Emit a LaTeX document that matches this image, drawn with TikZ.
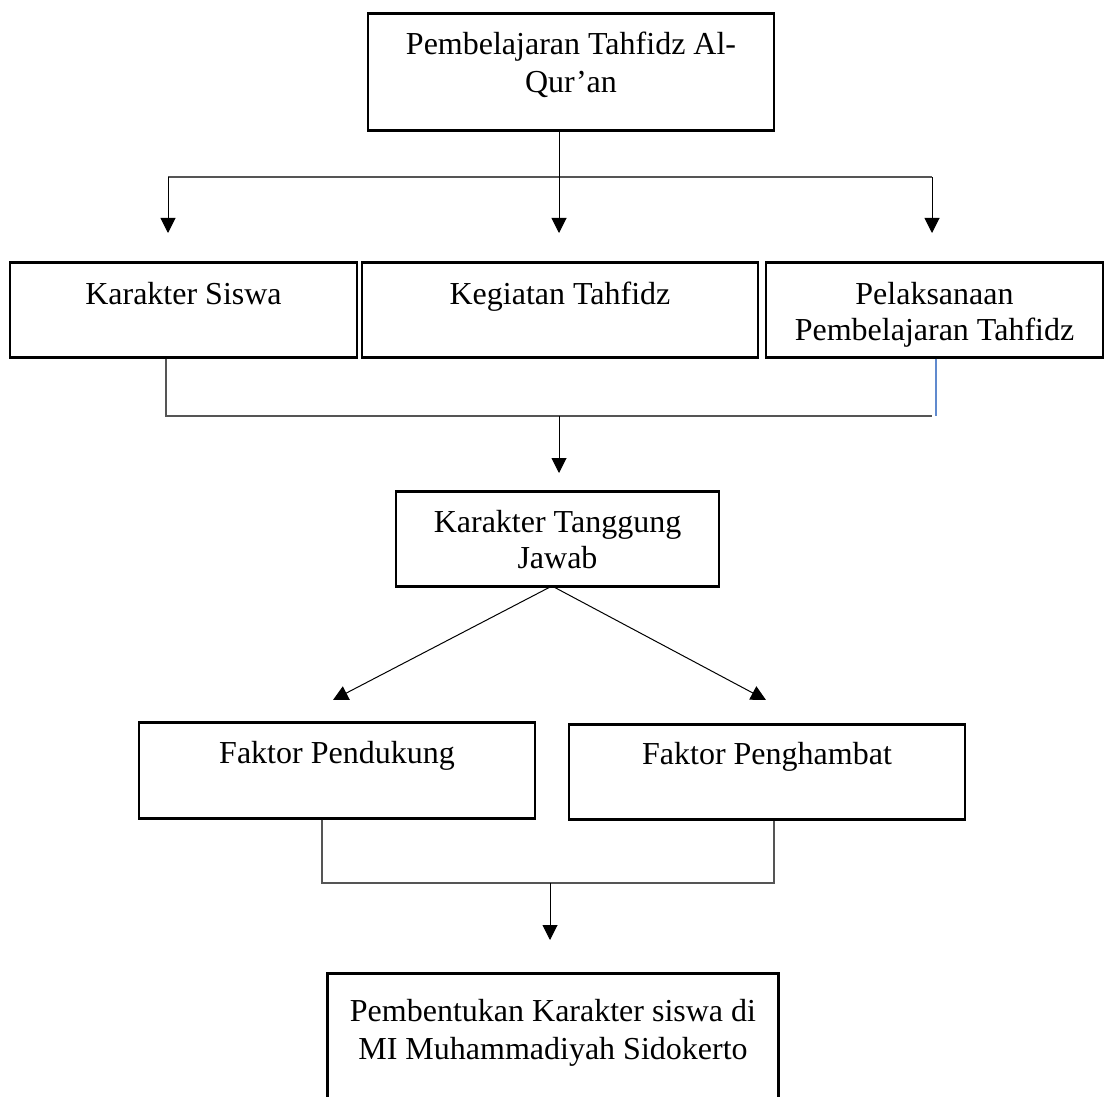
\documentclass[tikz,border=0pt]{standalone}
\usepackage{fontspec}
\setmainfont{Liberation Serif}
\usetikzlibrary{arrows.meta,positioning}
\definecolor{linegray}{RGB}{85,85,85}
\definecolor{lineblue}{RGB}{96,138,206}
\tikzset{
  box/.style={draw,line width=1.3pt,inner sep=0pt,align=center,anchor=north,font=\fontsize{16pt}{18pt}\selectfont},
  arrow/.style={-{Triangle[length=7.5pt,width=7.5pt]},line width=0.5pt},
  link/.style={line width=0.6pt,linegray},
}

\begin{document}
\begin{tikzpicture}[x=0.5pt,y=-0.5pt]
  \clip (0,0) rectangle (1104,1097);
  % boxes
  \node[box,minimum width=203pt,text height=39.5pt,text depth=19pt,font=\fontsize{16pt}{19pt}\selectfont] (judul) at (571,12) {Pembelajaran Tahfidz Al-\\Qur’an};
  \node[box,minimum width=173.5pt,text height=21pt,text depth=26.5pt] (siswa) at (183.5,261) {Karakter Siswa};
  \node[box,minimum width=198pt,text height=21pt,text depth=26.5pt] (kegiatan) at (560,261) {Kegiatan Tahfidz};
  \node[box,minimum width=168.5pt,text height=39pt,text depth=8.5pt] (pelaksanaan) at (934.5,261) {Pelaksanaan\\Pembelajaran Tahfidz};
  \node[box,minimum width=161.5pt,text height=38.5pt,text depth=9pt] (tanggung) at (557.5,490) {Karakter Tanggung\\Jawab};
  \node[box,minimum width=198pt,text height=20.5pt,text depth=27.5pt] (pendukung) at (337,721) {Faktor Pendukung};
  \node[box,minimum width=198pt,text height=20pt,text depth=27.5pt] (penghambat) at (767,723) {Faktor Penghambat};
  \node[box,minimum width=225.5pt,text height=43pt,text depth=30pt,font=\fontsize{16pt}{19pt}\selectfont] (bentuk) at (553,972) {Pembentukan Karakter siswa di\\MI Muhammadiyah Sidokerto};

  % branch below the title
  \coordinate (cabangA) at (168,177);
  \coordinate (cabangB) at (559,177);
  \coordinate (cabangC) at (932,177);
  \draw[link] (cabangA) -- (cabangC);
  \draw[line width=0.5pt] (judul.south -| cabangB) -- (cabangB);
  \draw[arrow,shorten >=14pt] (cabangA) -- (siswa.north -| cabangA);
  \draw[arrow,shorten >=14pt] (cabangB) -- (kegiatan.north -| cabangB);
  \draw[arrow,shorten >=14pt] (cabangC) -- (pelaksanaan.north -| cabangC);

  % join of the three boxes
  \coordinate (gabungKiri) at (166,416);
  \coordinate (gabungKanan) at (932,416);
  \coordinate (gabungBiru) at (936,416);
  \coordinate (gabungTengah) at (559,416);
  \draw[link] (siswa.south -| gabungKiri) -- (gabungKiri) -- (gabungKanan);
  \draw[lineblue,line width=0.6pt] (pelaksanaan.south -| gabungBiru) -- (gabungBiru);
  \draw[arrow,shorten >=8.5pt] (gabungTengah) -- (tanggung.north -| gabungTengah);

  % split to the two factors
  \coordinate (pusat) at (552,586);
  \coordinate (ujungKiri) at (333,700);
  \coordinate (ujungKanan) at (766,700);
  \draw[arrow] (pusat) -- (ujungKiri);
  \draw[arrow] (pusat) -- (ujungKanan);

  % join of the two factors
  \coordinate (faktorKiri) at (322,883);
  \coordinate (faktorKanan) at (774,883);
  \coordinate (faktorTengah) at (550,883);
  \draw[link] (pendukung.south -| faktorKiri) -- (faktorKiri) -- (faktorKanan) -- (penghambat.south -| faktorKanan);
  \draw[arrow,shorten >=16pt] (faktorTengah) -- (bentuk.north -| faktorTengah);
\end{tikzpicture}
\end{document}
